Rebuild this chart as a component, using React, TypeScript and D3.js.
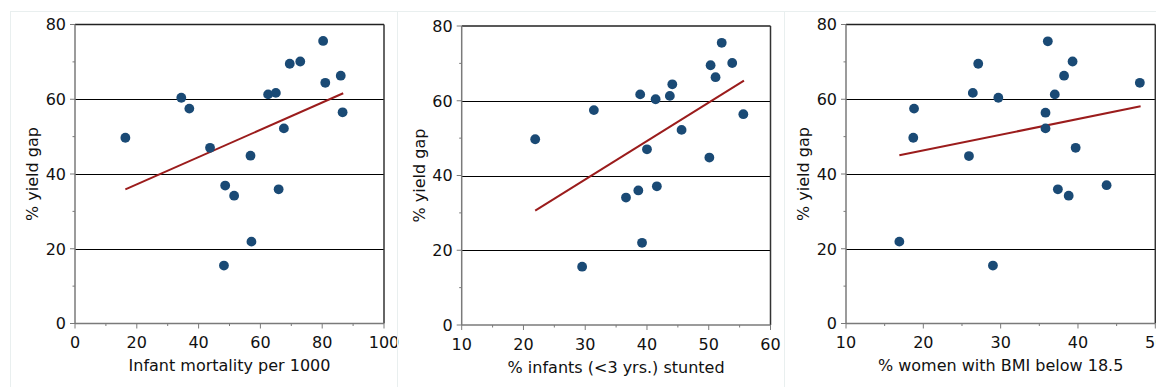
import React from "react";
import * as d3 from "d3";

// % yield gap per country (shared y values across the three panels)
const infantMortality = [16.3, 34.4, 37.0, 43.7, 48.6, 48.2, 51.5, 56.8, 57.1, 62.5, 65.0, 65.9, 67.6, 69.5, 72.9, 80.3, 81.0, 86.0, 86.6];
const yieldGapA = [49.7, 60.4, 57.5, 47.0, 36.9, 15.5, 34.2, 44.9, 21.9, 61.3, 61.7, 35.9, 52.2, 69.5, 70.1, 75.6, 64.4, 66.3, 56.5];

const stunted = [21.9, 31.4, 29.5, 36.6, 38.6, 38.9, 39.2, 40.0, 41.4, 41.6, 43.7, 44.1, 45.6, 50.1, 50.3, 51.1, 52.1, 53.8, 55.6];
const yieldGapB = [49.7, 57.5, 15.6, 34.1, 36.0, 61.7, 22.0, 47.0, 60.4, 37.1, 61.3, 64.4, 52.2, 44.8, 69.5, 66.3, 75.5, 70.1, 56.4];

const lowBmi = [16.9, 18.8, 18.7, 25.9, 26.4, 27.1, 29.0, 29.7, 35.8, 35.8, 36.1, 37.0, 37.4, 38.2, 38.8, 39.3, 39.7, 43.7, 48.0];
const yieldGapC = [21.9, 57.5, 49.7, 44.8, 61.7, 69.5, 15.5, 60.4, 56.4, 52.2, 75.5, 61.3, 35.9, 66.3, 34.2, 70.1, 47.0, 37.0, 64.4];

// Linear trend end points [x, y]
const trendA: [number, number][] = [[16.3, 35.9], [86.8, 61.6]];
const trendB: [number, number][] = [[21.9, 30.6], [55.7, 65.4]];
const trendC: [number, number][] = [[16.9, 45.0], [48.1, 58.1]];

const yTicks = [0, 20, 40, 60, 80];
const yMinor = [10, 30, 50, 70];
const yGrid = [20, 40, 60];

const xTicksA = [0, 20, 40, 60, 80, 100];
const xMinorA = [10, 30, 50, 70, 90];
const xTicksB = [10, 20, 30, 40, 50, 60];
const xMinorB = [15, 25, 35, 45, 55];
const xTicksC = [10, 20, 30, 40, 50];
const xMinorC = [15, 25, 35, 45];

const xTitles = ["Infant mortality per 1000", "% infants (<3 yrs.) stunted", "% women with BMI below 18.5"];
const yTitle = "% yield gap";

type PanelDef = {
  frameX: number;
  frameW: number;
  left: number;
  right: number;
  top: number;
  bottom: number;
  xDomain: [number, number];
  xs: number[];
  ys: number[];
  trend: [number, number][];
  xTicks: number[];
  xMinor: number[];
  xTitle: string;
};

const panels: PanelDef[] = [
  { frameX: 10, frameW: 387, left: 75, right: 384, top: 24.5, bottom: 323.5, xDomain: [0, 100], xs: infantMortality, ys: yieldGapA, trend: trendA, xTicks: xTicksA, xMinor: xMinorA, xTitle: xTitles[0] },
  { frameX: 397, frameW: 387, left: 461.7, right: 770.5, top: 26, bottom: 325, xDomain: [10, 60], xs: stunted, ys: yieldGapB, trend: trendB, xTicks: xTicksB, xMinor: xMinorB, xTitle: xTitles[1] },
  { frameX: 784, frameW: 380, left: 846, right: 1155.3, top: 24.5, bottom: 323.5, xDomain: [10, 50], xs: lowBmi, ys: yieldGapC, trend: trendC, xTicks: xTicksC, xMinor: xMinorC, xTitle: xTitles[2] },
];

const FONT = "'DejaVu Sans', Verdana, sans-serif";
const DOT = "#1a4a75";
const TREND = "#9b1c1c";
const AXIS = "#7a7a7a";

function Panel({ p }: { p: PanelDef }) {
  const x = d3.scaleLinear().domain(p.xDomain).range([p.left, p.right]);
  const y = d3.scaleLinear().domain([0, 80]).range([p.bottom, p.top]);
  const line = d3.line<[number, number]>().x((d) => x(d[0])).y((d) => y(d[1]));
  const cx = (p.left + p.right) / 2;
  const cy = (p.top + p.bottom) / 2;
  return (
    <g>
      <rect x={p.frameX + 0.5} y={11.5} width={p.frameW} height={400} fill="none" stroke="#e9efef" strokeWidth={1} />
      {/* gridlines */}
      {yGrid.map((v) => (
        <line key={"g" + v} x1={p.left} x2={p.right} y1={Math.round(y(v)) + 0.5} y2={Math.round(y(v)) + 0.5} stroke="#000" strokeWidth={1} />
      ))}
      {/* top and right border */}
      <line x1={p.left} x2={p.right} y1={y(80)} y2={y(80)} stroke="#222" strokeWidth={1.5} />
      <line x1={p.right} x2={p.right} y1={y(80)} y2={y(0)} stroke="#333" strokeWidth={1.5} />
      {/* left axis */}
      <line x1={p.left} x2={p.left} y1={y(80)} y2={y(0)} stroke={AXIS} strokeWidth={1.5} />
      {yTicks.map((v) => (
        <g key={"yt" + v}>
          <line x1={p.left - 5} x2={p.left} y1={y(v)} y2={y(v)} stroke={AXIS} strokeWidth={1} />
          <text x={p.left - 9} y={y(v)} dy="0.36em" textAnchor="end" fontSize={16} fontFamily={FONT} fill="#111">{v}</text>
        </g>
      ))}
      {yMinor.map((v) => (
        <line key={"ym" + v} x1={p.left - 2.5} x2={p.left} y1={y(v)} y2={y(v)} stroke={AXIS} strokeWidth={1} />
      ))}
      {/* bottom axis */}
      <line x1={p.left} x2={p.right} y1={y(0)} y2={y(0)} stroke={AXIS} strokeWidth={1.5} />
      {p.xTicks.map((v) => (
        <g key={"xt" + v}>
          <line x1={x(v)} x2={x(v)} y1={y(0)} y2={y(0) + 5} stroke={AXIS} strokeWidth={1} />
          <text x={x(v)} y={y(0) + 24.5} textAnchor="middle" fontSize={16} fontFamily={FONT} fill="#111">{v}</text>
        </g>
      ))}
      {p.xMinor.map((v) => (
        <line key={"xm" + v} x1={x(v)} x2={x(v)} y1={y(0)} y2={y(0) + 2.5} stroke={AXIS} strokeWidth={1} />
      ))}
      {/* titles */}
      <text x={cx} y={y(0) + 47.5} textAnchor="middle" fontSize={16} fontFamily={FONT} fill="#111">{p.xTitle}</text>
      <text transform={`translate(${p.left - 37},${cy}) rotate(-90)`} textAnchor="middle" fontSize={16} fontFamily={FONT} fill="#111">{yTitle}</text>
      {/* trend */}
      <path d={line(p.trend) || ""} fill="none" stroke={TREND} strokeWidth={2} />
      {/* points */}
      {p.xs.map((xv, i) => (
        <circle key={"c" + i} cx={x(xv)} cy={y(p.ys[i])} r={4.9} fill={DOT} />
      ))}
    </g>
  );
}

export default function App() {
  return (
    <svg width={1156} height={387} style={{ position: "absolute", left: 0, top: 0, background: "#fff" }}>
      <rect width={1156} height={387} fill="#fff" />
      {panels.map((p, i) => (
        <Panel key={i} p={p} />
      ))}
    </svg>
  );
}
